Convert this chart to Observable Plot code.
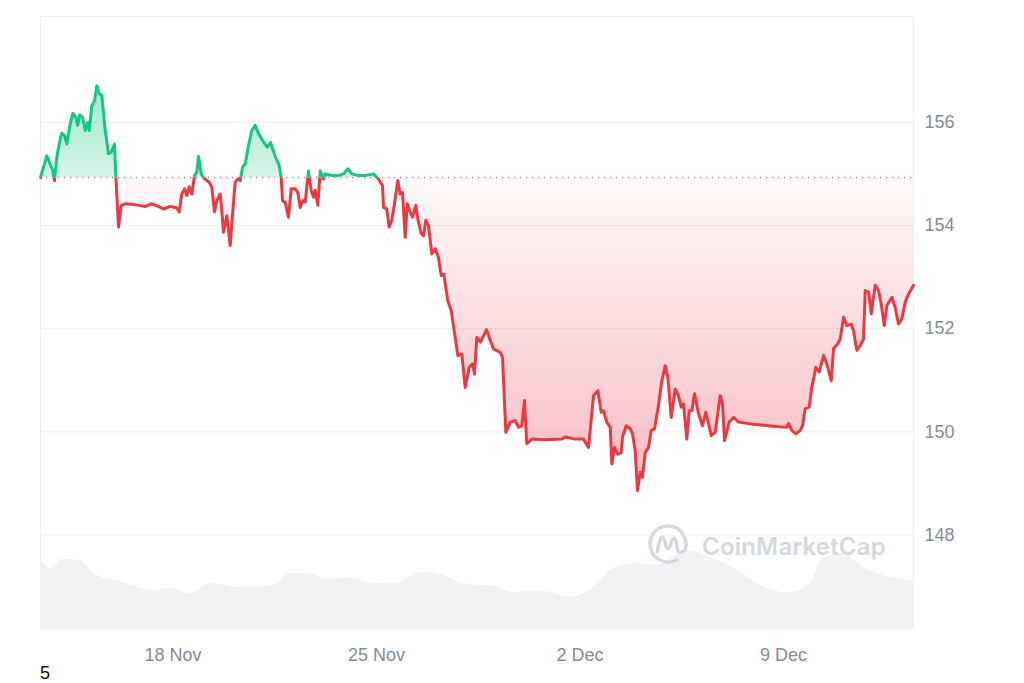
<!DOCTYPE html>
<html><head><meta charset="utf-8">
<script src="https://cdn.jsdelivr.net/npm/d3@7"></script>
<script src="https://cdn.jsdelivr.net/npm/@observablehq/plot@0.6"></script>
<style>
html,body{margin:0;padding:0;background:#fff;}
#wrap{position:relative;width:1024px;height:683px;overflow:hidden;font-family:"Liberation Sans",Arial,sans-serif;}
#wrap svg.layer{position:absolute;left:0;top:0;}
#note{position:absolute;left:40px;top:664px;font-size:18px;line-height:1;color:#111;}
#wm{position:absolute;left:646px;top:522px;pointer-events:none;}
#wmText{position:absolute;left:702px;top:535px;font-family:Inter,"Noto Sans",sans-serif;font-weight:600;font-size:24px;line-height:1;color:#d4d8dd;letter-spacing:0.2px;pointer-events:none;}
</style></head>
<body><div id="wrap"></div>
<script>
const year = "2024";
const times = [
"11-13 10:36","11-13 15:48","11-13 18:37","11-13 20:31","11-13 22:10",
"11-14 00:04","11-14 02:02","11-14 04:11","11-14 06:25","11-14 08:19","11-14 11:07","11-14 13:16","11-14 15:45","11-14 17:24","11-14 18:48","11-14 21:17","11-14 23:31",
"11-15 01:39","11-15 02:49","11-15 04:58","11-15 07:11","11-15 09:05","11-15 11:04","11-15 13:13","11-15 16:01","11-15 18:44","11-15 20:58","11-15 23:42",
"11-16 00:46","11-16 03:00","11-16 05:14","11-16 08:32","11-16 13:59","11-16 19:31",
"11-17 01:02","11-17 06:29","11-17 12:01","11-17 16:09","11-17 21:41",
"11-18 03:08","11-18 05:07","11-18 07:16","11-18 09:29","11-18 11:23","11-18 13:22","11-18 15:31","11-18 17:45","11-18 19:38","11-18 21:03","11-18 23:17",
"11-19 01:11","11-19 03:54","11-19 05:53","11-19 08:02","11-19 10:16","11-19 12:10","11-19 14:58","11-19 16:17","11-19 17:41","11-19 20:25","11-19 23:13",
"11-20 00:32","11-20 03:21","11-20 05:29","11-20 07:29","11-20 09:23","11-20 11:36","11-20 14:20","11-20 17:03","11-20 19:52","11-20 22:35",
"11-21 02:58","11-21 05:46","11-21 08:29","11-21 12:37","11-21 15:20","11-21 17:20","11-21 18:24","11-21 20:38","11-21 23:21",
"11-22 01:35","11-22 04:53","11-22 07:02","11-22 09:01","11-22 10:55","11-22 13:08","11-22 15:52","11-22 18:05","11-22 19:59","11-22 21:24","11-22 23:32",
"11-23 01:31","11-23 04:15","11-23 05:39","11-23 11:06","11-23 16:38","11-23 20:46",
"11-24 00:19","11-24 03:37","11-24 09:08","11-24 14:41","11-24 21:32",
"11-25 01:40","11-25 04:58","11-25 05:47","11-25 08:31","11-25 10:29","11-25 12:38","11-25 14:52","11-25 17:35","11-25 19:34","11-25 21:28","11-25 23:42",
"11-26 01:21","11-26 03:50","11-26 05:44","11-26 08:27","11-26 10:06","11-26 12:55","11-26 14:49","11-26 16:43","11-26 18:56","11-26 21:40",
"11-27 00:28","11-27 03:11","11-27 05:25","11-27 07:34","11-27 10:52","11-27 13:41","11-27 16:59","11-27 19:08","11-27 22:26",
"11-28 01:14","11-28 04:32","11-28 07:16","11-28 08:55","11-28 10:49","11-28 13:52","11-28 18:49","11-28 21:53",
"11-29 00:36","11-29 06:08","11-29 08:02","11-29 10:46","11-29 14:23","11-29 18:31","11-29 21:14","11-29 23:58",
"11-30 02:11","11-30 04:05","11-30 08:13","11-30 19:17",
"12-01 08:59","12-01 11:48","12-01 20:03",
"12-02 02:54","12-02 07:02","12-02 11:10","12-02 14:43","12-02 17:31","12-02 19:25","12-02 22:08",
"12-03 00:57","12-03 02:16","12-03 04:30","12-03 07:13","12-03 10:02","12-03 11:06","12-03 14:10","12-03 17:28","12-03 19:22","12-03 21:35","12-03 23:29",
"12-04 01:43","12-04 03:37","12-04 05:50","12-04 08:34","12-04 10:48","12-04 13:31","12-04 16:49","12-04 19:33","12-04 22:22",
"12-05 00:30","12-05 03:19","12-05 06:37","12-05 09:20","12-05 11:34","12-05 13:28","12-05 16:11","12-05 18:10","12-05 20:19","12-05 22:33",
"12-06 01:51","12-06 05:09","12-06 07:53","12-06 12:20","12-06 15:38","12-06 19:46","12-06 21:40","12-06 23:19",
"12-07 03:11","12-07 06:44","12-07 10:52","12-07 19:08",
"12-08 03:23","12-08 11:38","12-08 19:54",
"12-09 02:45","12-09 04:09","12-09 06:53","12-09 10:11","12-09 13:49","12-09 15:43","12-09 17:56","12-09 21:14","12-09 23:23",
"12-10 02:41","12-10 05:30","12-10 09:03","12-10 11:46","12-10 15:25","12-10 17:18","12-10 20:51","12-10 22:50",
"12-11 01:34","12-11 04:17","12-11 07:55","12-11 09:49","12-11 12:32","12-11 15:21","12-11 18:04","12-11 19:29","12-11 22:12",
"12-12 00:26","12-12 03:44","12-12 06:28","12-12 08:41","12-12 11:10","12-12 13:19","12-12 17:26","12-12 20:14","12-12 22:58",
"12-13 01:41","12-13 04:30","12-13 07:13","12-13 11:20"
];
const prices = [
154.93,155.35,155.19,155.08,154.87,
155.32,155.58,155.79,155.74,155.58,155.97,156.17,156.10,155.94,156.14,156.10,155.84,
156.00,155.84,156.32,156.42,156.71,156.56,156.52,155.84,155.39,155.42,155.58,
154.97,153.97,154.39,154.42,154.41,154.39,
154.37,154.42,154.37,154.32,154.37,
154.34,154.26,154.61,154.71,154.58,154.75,154.61,154.97,155.03,155.34,155.00,
154.93,154.87,154.84,154.74,154.26,154.48,154.61,154.29,153.87,154.19,153.61,
154.03,154.84,154.90,154.87,155.13,155.19,155.55,155.84,155.94,155.78,
155.61,155.52,155.61,155.32,155.19,154.93,154.48,154.45,154.16,
154.71,154.71,154.64,154.35,154.48,154.45,155.06,154.68,154.55,154.68,154.39,
155.06,154.90,155.00,154.97,154.97,155.00,
155.10,155.00,154.97,154.97,155.00,
154.90,154.77,154.35,154.32,153.97,154.10,154.42,154.87,154.61,154.64,153.77,
154.42,154.26,154.16,154.39,154.13,153.84,153.80,154.10,154.00,153.45,
153.55,153.38,153.03,153.06,152.54,152.35,151.83,151.48,151.51,
150.86,151.25,151.32,151.12,151.83,151.74,151.98,151.77,
151.61,151.54,151.45,149.99,150.19,150.22,150.09,150.12,
150.61,149.77,149.86,149.85,
149.86,149.90,149.86,
149.86,149.70,150.70,150.80,150.38,150.41,150.19,
150.09,149.38,149.70,149.57,149.60,149.90,150.12,150.06,149.96,149.64,148.86,
149.22,149.12,149.60,149.70,150.03,150.06,150.51,150.99,151.28,
151.06,150.28,150.83,150.70,150.48,150.54,149.86,150.41,150.41,150.74,
150.35,150.12,150.38,149.93,149.99,150.70,150.54,149.83,
150.19,150.28,150.19,150.16,
150.14,150.12,150.10,
150.09,150.16,150.03,149.96,150.03,150.12,150.45,150.48,150.86,
151.25,151.16,151.48,151.32,150.99,151.61,151.71,151.80,
152.22,152.06,152.09,151.96,151.58,151.67,151.80,152.74,152.71,
152.29,152.84,152.74,152.48,152.06,152.45,152.61,152.41,152.09,
152.19,152.51,152.67,152.84
];
const volTimes = ["11-13 10:36","11-13 18:52","11-14 05:35","11-14 19:38","11-15 06:22","11-16 07:08","11-17 07:54","11-17 21:56","11-18 14:26","11-19 06:58","11-20 05:15","11-21 10:58","11-22 01:00","11-22 15:02","11-23 07:33","11-24 02:32","11-25 00:50","11-25 17:20","11-26 09:52","11-26 20:35","11-27 13:06","11-27 23:50","11-28 13:52","11-28 22:07","11-29 17:07","11-30 12:56","12-01 16:10","12-02 11:10","12-03 03:40","12-03 23:29","12-04 16:00","12-05 16:46","12-06 11:46","12-07 10:03","12-08 05:02","12-09 03:20","12-09 22:19","12-10 09:03","12-11 01:34","12-11 18:04","12-12 10:35","12-13 11:20"];
const volumes = [710,600,690,680,550,460,380,400,350,450,410,430,550,550,490,500,450,460,550,560,500,450,430,430,360,380,310,410,600,650,630,780,710,580,430,360,450,710,750,610,530,480];
const yTicks = [148,150,152,154,156];
const xTickTimes = ["11-18 00:00","11-25 00:00","12-02 00:00","12-09 00:00"];
const caption = "5";
const watermark = "CoinMarketCap";

const parse = d3.utcParse("%Y-%m-%d %H:%M");
const toDate = s => parse(`${year}-${s}`);
const data = times.map((t, i) => ({date: toDate(t), price: prices[i]}));
const vdata = volTimes.map((t, i) => ({date: toDate(t), v: volumes[i]}));
const xTicks = xTickTimes.map(toDate);
const baseline = prices[0];
const xDomain = d3.extent(data, d => d.date);

const W = 1024, H = 683;
const M = {marginTop: 16, marginRight: 111, marginBottom: 55, marginLeft: 40};
const UP = "#16c784", DOWN = "#ea3943";

// render wrapper: clip a mark to one side of the baseline (and optionally swap its fill)
const clipTo = (id, fill) => (index, scales, values, dimensions, context, next) => {
  const g = next(index, scales, values, dimensions, context);
  if (g) {
    g.setAttribute("clip-path", `url(#${id})`);
    if (fill) {
      g.setAttribute("fill", fill);
      g.querySelectorAll("path").forEach(p => p.setAttribute("fill", fill));
    }
  }
  return g;
};

const vol = Plot.plot({
  width: W, height: H, ...M,
  x: {type: "utc", domain: xDomain, axis: null},
  y: {domain: [0, 6120], axis: null},
  style: {background: "transparent"},
  marks: [
    Plot.areaY(vdata, {x: "date", y: "v", fill: "#f0f2f4", curve: "monotone-x"})
  ]
});

const main = Plot.plot({
  width: W, height: H, ...M,
  x: {type: "utc", domain: xDomain},
  y: {domain: [146.19, 158.05]},
  style: {background: "transparent", fontFamily: '"Liberation Sans", Arial, sans-serif', fontSize: "18px", color: "#858c96"},
  marks: [
    Plot.frame({stroke: "#eceef2", strokeOpacity: 1}),
    Plot.gridY(yTicks, {stroke: "#edf0f3", strokeOpacity: 1}),
    Plot.areaY(data, {x: "date", y1: () => baseline, y2: "price", fill: UP, render: clipTo("clipUp", "url(#gradUp)")}),
    Plot.areaY(data, {x: "date", y1: () => baseline, y2: "price", fill: DOWN, render: clipTo("clipDown", "url(#gradDown)")}),
    Plot.ruleY([baseline], {stroke: "#8f98a8", strokeWidth: 1.3, strokeDasharray: "1.3,4.7"}),
    Plot.line(data, {x: "date", y: "price", stroke: UP, strokeWidth: 3, render: clipTo("clipUp")}),
    Plot.line(data, {x: "date", y: "price", stroke: DOWN, strokeWidth: 3, render: clipTo("clipDown")}),
    Plot.axisY(yTicks, {anchor: "right", tickSize: 0, tickPadding: 11, tickFormat: d3.format("d"), label: null}),
    Plot.axisX(xTicks, {tickSize: 0, tickPadding: 20, tickFormat: d3.utcFormat("%-d %b"), label: null})
  ]
});

// clip regions and gradients placed with the chart's own y scale
const ys = main.scale("y");
const yb = ys.apply(baseline);
const svg = d3.select(main);
const defs = svg.insert("defs", ":first-child");
defs.append("clipPath").attr("id", "clipUp").append("rect")
  .attr("x", 0).attr("y", 0).attr("width", W).attr("height", yb);
defs.append("clipPath").attr("id", "clipDown").append("rect")
  .attr("x", 0).attr("y", yb).attr("width", W).attr("height", H - yb);
const gUp = defs.append("linearGradient").attr("id", "gradUp")
  .attr("gradientUnits", "userSpaceOnUse").attr("x1", 0).attr("x2", 0)
  .attr("y1", ys.apply(d3.max(prices))).attr("y2", yb);
gUp.append("stop").attr("offset", 0).attr("stop-color", UP).attr("stop-opacity", 0.42);
gUp.append("stop").attr("offset", 1).attr("stop-color", UP).attr("stop-opacity", 0.18);
const gDn = defs.append("linearGradient").attr("id", "gradDown")
  .attr("gradientUnits", "userSpaceOnUse").attr("x1", 0).attr("x2", 0)
  .attr("y1", yb).attr("y2", ys.apply(d3.min(prices)));
gDn.append("stop").attr("offset", 0).attr("stop-color", DOWN).attr("stop-opacity", 0.03);
gDn.append("stop").attr("offset", 1).attr("stop-color", DOWN).attr("stop-opacity", 0.34);

vol.classList.add("layer");
main.classList.add("layer");
const wrap = document.getElementById("wrap");
wrap.appendChild(vol);
wrap.appendChild(main);

// watermark
const wm = document.createElement("div");
wm.id = "wm";
wm.innerHTML = `<svg width="44" height="44" viewBox="0 0 44 44" fill="none" stroke="#d4d8dd" stroke-width="3.4" stroke-linecap="round" stroke-linejoin="round">
<path d="M31 37.6 A18 18 0 1 1 38.9 28.2"/>
<path d="M11 30 C13 22 14 15 16.5 15 C19 15 19 27 22 27 C25 27 25 16 28 16 C31 16 30 30 34 30 C36 30 38 29 38.9 28.2"/></svg>`;
wrap.appendChild(wm);
const wmt = document.createElement("div");
wmt.id = "wmText";
wmt.textContent = watermark;
wrap.appendChild(wmt);

const note = document.createElement("div");
note.id = "note";
note.textContent = caption;
wrap.appendChild(note);
</script>
</body></html>
